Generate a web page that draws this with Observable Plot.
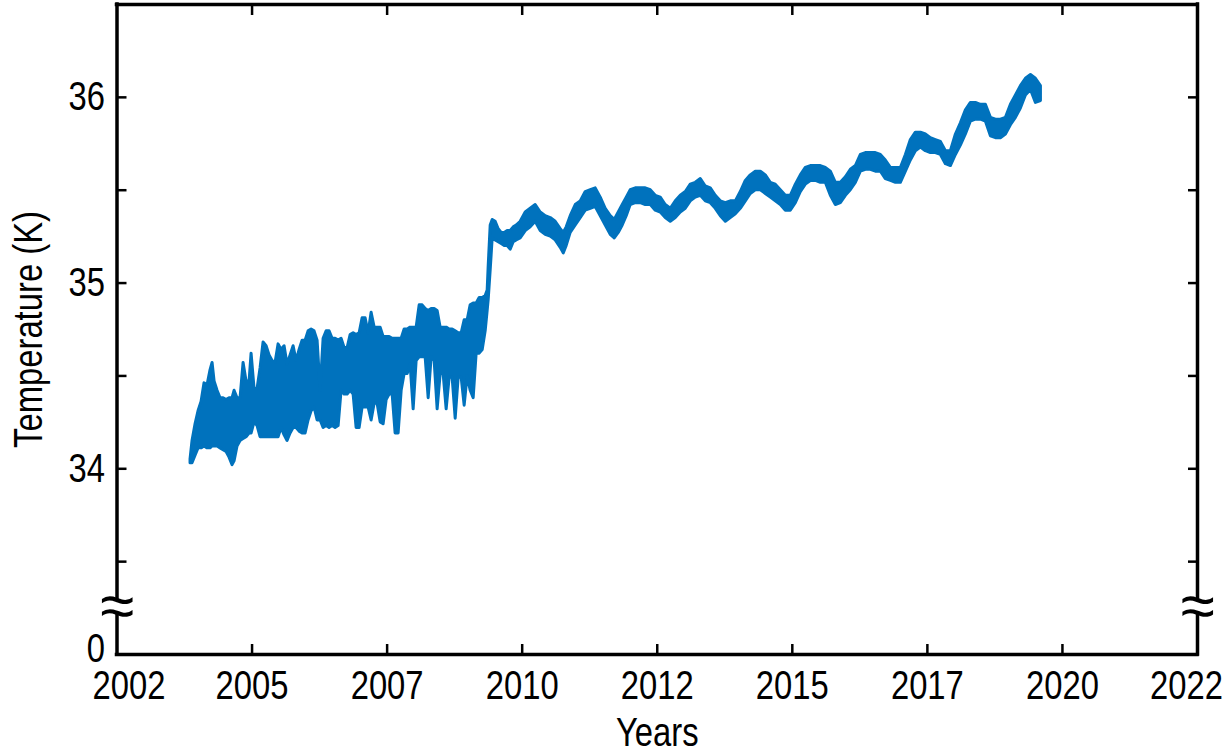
<!DOCTYPE html>
<html>
<head>
<meta charset="utf-8">
<script src="https://cdn.jsdelivr.net/npm/d3@7"></script>
<script src="https://cdn.jsdelivr.net/npm/@observablehq/plot@0.6"></script>
<style>
  html, body { margin: 0; padding: 0; background: #fff; }
  #chart svg { display: block; }
</style>
</head>
<body>
<div id="chart"></div>
<script>
// ---- Data (decimal year, band of the plotted series in K) ----
const years = [
  2003.361, 2003.398, 2003.454, 2003.509, 2003.565, 2003.620, 2003.676, 2003.731, 2003.769, 2003.806,
  2003.861, 2003.917, 2003.972, 2004.028, 2004.083, 2004.139, 2004.176, 2004.231, 2004.287, 2004.343,
  2004.398, 2004.454, 2004.491, 2004.546, 2004.602, 2004.657, 2004.713, 2004.769, 2004.824, 2004.880,
  2004.935, 2004.991, 2005.046, 2005.102, 2005.157, 2005.213, 2005.269, 2005.324, 2005.380, 2005.435,
  2005.491, 2005.546, 2005.602, 2005.657, 2005.713, 2005.769, 2005.824, 2005.880, 2005.935, 2005.991,
  2006.046, 2006.102, 2006.157, 2006.213, 2006.269, 2006.324, 2006.380, 2006.435, 2006.491, 2006.546,
  2006.602, 2006.657, 2006.713, 2006.769, 2006.824, 2006.880, 2006.935, 2006.991, 2007.046, 2007.102,
  2007.157, 2007.213, 2007.269, 2007.324, 2007.380, 2007.435, 2007.491, 2007.546, 2007.602, 2007.657,
  2007.713, 2007.769, 2007.824, 2007.880, 2007.935, 2007.991, 2008.046, 2008.102, 2008.157, 2008.213,
  2008.269, 2008.324, 2008.380, 2008.435, 2008.491, 2008.546, 2008.602, 2008.657, 2008.713, 2008.769,
  2008.824, 2008.861,
  2008.880, 2008.917, 2008.954, 2009.009, 2009.065, 2009.120, 2009.176, 2009.231, 2009.287, 2009.343,
  2009.398, 2009.472, 2009.565, 2009.657, 2009.750, 2009.843, 2009.935, 2010.028, 2010.120, 2010.213,
  2010.269, 2010.324, 2010.398, 2010.491, 2010.583, 2010.676, 2010.769, 2010.861, 2010.954, 2011.046,
  2011.139, 2011.213, 2011.287, 2011.361, 2011.435, 2011.509,
  2011.602, 2011.694, 2011.787, 2011.880, 2011.972, 2012.065, 2012.157, 2012.250, 2012.343, 2012.435,
  2012.528, 2012.620, 2012.713, 2012.806, 2012.898, 2012.991, 2013.083, 2013.176, 2013.269, 2013.361,
  2013.454, 2013.546, 2013.639, 2013.731, 2013.824, 2013.917, 2014.009, 2014.102, 2014.194, 2014.287,
  2014.380, 2014.472, 2014.565, 2014.657, 2014.750, 2014.843, 2014.935, 2015.028, 2015.120, 2015.213,
  2015.306, 2015.398, 2015.491, 2015.583, 2015.676, 2015.769, 2015.861, 2015.954, 2016.046, 2016.139,
  2016.231, 2016.324, 2016.417, 2016.509, 2016.602, 2016.694, 2016.787, 2016.880, 2016.972, 2017.065,
  2017.157, 2017.250, 2017.343, 2017.435, 2017.528, 2017.620, 2017.713, 2017.806, 2017.898, 2017.991,
  2018.083, 2018.176, 2018.269, 2018.361, 2018.454, 2018.546, 2018.639, 2018.731, 2018.824, 2018.917,
  2019.009, 2019.102
];

const tempHigh = [
  34.05, 34.15, 34.24, 34.31, 34.36, 34.46, 34.45, 34.53, 34.57, 34.47,
  34.42, 34.38, 34.38, 34.37, 34.38, 34.38, 34.42, 34.38, 34.38, 34.57,
  34.47, 34.47, 34.62, 34.43, 34.43, 34.54, 34.68, 34.66, 34.61, 34.58,
  34.57, 34.67, 34.64, 34.66, 34.56, 34.61, 34.66, 34.58, 34.64, 34.69,
  34.69, 34.74, 34.75, 34.74, 34.69, 34.42, 34.70, 34.74, 34.74, 34.70,
  34.70, 34.69, 34.70, 34.65, 34.65, 34.72, 34.73, 34.72, 34.73, 34.81,
  34.81, 34.73, 34.84, 34.76, 34.76, 34.76, 34.71, 34.71, 34.71, 34.70,
  34.70, 34.70, 34.70, 34.75, 34.75, 34.76, 34.76, 34.76, 34.88, 34.88,
  34.86, 34.85, 34.86, 34.86, 34.85, 34.76, 34.76, 34.76, 34.75, 34.75,
  34.74, 34.73, 34.73, 34.80, 34.80, 34.88, 34.89, 34.89, 34.92, 34.92,
  34.93, 34.96,
  35.09, 35.31, 35.34, 35.33, 35.29, 35.27, 35.27, 35.28, 35.28, 35.30,
  35.31, 35.33, 35.38, 35.40, 35.42, 35.38, 35.36, 35.35, 35.33, 35.29,
  35.27, 35.30, 35.36, 35.42, 35.44, 35.49, 35.50, 35.51, 35.46, 35.40,
  35.36, 35.34, 35.38, 35.42, 35.46, 35.50,
  35.51, 35.51, 35.51, 35.50, 35.47, 35.46, 35.42, 35.40, 35.44, 35.47,
  35.49, 35.53, 35.54, 35.56, 35.52, 35.51, 35.47, 35.44, 35.43, 35.44,
  35.44, 35.49, 35.55, 35.58, 35.60, 35.60, 35.58, 35.54, 35.53, 35.50,
  35.47, 35.47, 35.53, 35.58, 35.62, 35.63, 35.63, 35.63, 35.62, 35.60,
  35.54, 35.54, 35.57, 35.61, 35.63, 35.69, 35.70, 35.70, 35.70, 35.69,
  35.66, 35.62, 35.62, 35.62, 35.69, 35.77, 35.81, 35.81, 35.80, 35.78,
  35.77, 35.76, 35.71, 35.71, 35.80, 35.86, 35.93, 35.97, 35.97, 35.96,
  35.96, 35.89, 35.88, 35.88, 35.89, 35.96, 36.01, 36.06, 36.10, 36.12,
  36.10, 36.06
];

const tempLow = [
  34.03, 34.03, 34.07, 34.11, 34.11, 34.12, 34.11, 34.11, 34.12, 34.12,
  34.12, 34.11, 34.10, 34.09, 34.06, 34.02, 34.04, 34.12, 34.15, 34.16,
  34.17, 34.19, 34.19, 34.25, 34.23, 34.17, 34.17, 34.17, 34.17, 34.17,
  34.17, 34.17, 34.22, 34.18, 34.15, 34.19, 34.22, 34.22, 34.20, 34.19,
  34.19, 34.26, 34.31, 34.33, 34.26, 34.26, 34.22, 34.23, 34.22, 34.23,
  34.22, 34.23, 34.42, 34.40, 34.40, 34.42, 34.40, 34.22, 34.22, 34.33,
  34.33, 34.33, 34.26, 34.35, 34.35, 34.25, 34.24, 34.37, 34.40, 34.40,
  34.19, 34.19, 34.42, 34.51, 34.51, 34.56, 34.32, 34.58, 34.60, 34.60,
  34.60, 34.38, 34.60, 34.58, 34.32, 34.51, 34.51, 34.32, 34.49, 34.49,
  34.27, 34.49, 34.49, 34.34, 34.50, 34.42, 34.38, 34.62, 34.62, 34.64,
  34.74, 34.85,
  34.91, 35.07, 35.24, 35.23, 35.22, 35.21, 35.20, 35.20, 35.18, 35.22,
  35.23, 35.24, 35.28, 35.30, 35.33, 35.28, 35.26, 35.25, 35.23, 35.19,
  35.16, 35.20, 35.27, 35.31, 35.35, 35.39, 35.40, 35.41, 35.36, 35.31,
  35.26, 35.24, 35.27, 35.31, 35.36, 35.42,
  35.43, 35.43, 35.42, 35.42, 35.39, 35.38, 35.35, 35.33, 35.35, 35.38,
  35.40, 35.44, 35.46, 35.47, 35.44, 35.43, 35.40, 35.36, 35.33, 35.35,
  35.37, 35.40, 35.44, 35.48, 35.50, 35.50, 35.48, 35.46, 35.44, 35.42,
  35.39, 35.39, 35.43, 35.49, 35.53, 35.55, 35.55, 35.54, 35.54, 35.47,
  35.42, 35.43, 35.47, 35.50, 35.54, 35.60, 35.61, 35.61, 35.60, 35.60,
  35.56, 35.55, 35.54, 35.54, 35.60, 35.66, 35.71, 35.73, 35.71, 35.70,
  35.70, 35.69, 35.64, 35.63, 35.69, 35.74, 35.80, 35.87, 35.88, 35.88,
  35.87, 35.79, 35.78, 35.78, 35.80, 35.85, 35.89, 35.94, 36.01, 36.04,
  35.97, 35.98
];

// Axis ticks and labels
const xTickValues = [2002, 2004.5, 2007, 2009.5, 2012, 2014.5, 2017, 2019.5, 2022];
const xTickLabels = ["2002", "2005", "2007", "2010", "2012", "2015", "2017", "2020", "2022"];
const yTickValues = [33.5, 34, 34.5, 35, 35.5, 36];
const yLabelValues = [33, 34, 35, 36];
const yLabelTexts = ["0", "34", "35", "36"];
const xLabel = "Years";
const yLabel = "Temperature (K)";
// broken-axis gap (the bottom of the axis stands for 0)
const breakLow = 33.21, breakHigh = 33.30, breakMid = 33.255;

// ---- Chart ----
const series = years.map((t, i) => ({t, lo: tempLow[i], hi: tempHigh[i]}));
const blue = "#0072BD";
const font = "'Liberation Sans', Arial, sans-serif";
const fs = 40;
const inner = xTickValues.slice(1, -1).map((v, i) => ({v, s: xTickLabels[i + 1]}));

const chart = Plot.plot({
  width: 1230,
  height: 751,
  marginLeft: 116.5,
  marginRight: 33,
  marginTop: 4,
  marginBottom: 97,
  style: {fontFamily: font, background: "white", color: "black"},
  x: {domain: [2002, 2022], axis: null, label: null},
  y: {domain: [33, 36.5], axis: null, label: null},
  marks: [
    Plot.areaY(series, {x: "t", y1: "lo", y2: "hi", fill: blue, stroke: blue, strokeWidth: 3, strokeLinejoin: "round"}),
    // inward ticks on all four sides
    Plot.axisY({anchor: "left", ticks: yTickValues, tickSize: -10, tickFormat: () => "", strokeWidth: 2.5, label: null}),
    Plot.axisY({anchor: "right", ticks: yTickValues, tickSize: -10, tickFormat: () => "", strokeWidth: 2.5, label: null}),
    Plot.axisX({anchor: "bottom", ticks: xTickValues.slice(1, -1), tickSize: -10, tickFormat: () => "", strokeWidth: 2.5, label: null}),
    Plot.axisX({anchor: "top", ticks: xTickValues.slice(1, -1), tickSize: -10, tickFormat: () => "", strokeWidth: 2.5, label: null}),
    // box
    Plot.ruleY([36.5, 33], {stroke: "black", strokeWidth: 3.5, strokeLinecap: "square"}),
    Plot.ruleX([2002, 2022], {y1: 33, y2: breakLow, stroke: "black", strokeWidth: 3.5, strokeLinecap: "square"}),
    Plot.ruleX([2002, 2022], {y1: breakHigh, y2: 36.5, stroke: "black", strokeWidth: 3.5, strokeLinecap: "square"}),
    // axis-break marks
    Plot.text([2002, 2022], {x: d => d, y: breakMid, text: () => "\u2248", fontSize: 62, className: "brk", fill: "black"}),
    // y tick labels
    Plot.text(yLabelValues.slice(1), {y: d => d, text: (d, i) => yLabelTexts[i + 1], frameAnchor: "left", dx: -12, textAnchor: "end", fontSize: fs}),
    Plot.text([yLabelValues[0]], {y: d => d, text: () => yLabelTexts[0], frameAnchor: "left", dx: -12, dy: -5, textAnchor: "end", fontSize: fs}),
    // x tick labels
    Plot.text(inner, {x: "v", text: "s", frameAnchor: "bottom", lineAnchor: "top", dy: 16, fontSize: fs}),
    Plot.text([xTickValues[0]], {x: d => d, text: () => xTickLabels[0], frameAnchor: "bottom", lineAnchor: "top", dy: 16, dx: 12, fontSize: fs}),
    Plot.text([xTickValues[xTickValues.length - 1]], {x: d => d, text: () => xTickLabels[xTickLabels.length - 1], frameAnchor: "bottom", lineAnchor: "top", dy: 16, dx: -11, fontSize: fs}),
    // axis titles
    Plot.text([xLabel], {x: 2012, text: d => d, frameAnchor: "bottom", lineAnchor: "top", dy: 63, fontSize: fs}),
    Plot.text([yLabel], {text: d => d, frameAnchor: "left", rotate: -90, textAnchor: "middle", lineAnchor: "top", dx: -103, fontSize: fs})
  ]
});

// condensed (narrow) look of the reference's Helvetica-Narrow-like text:
// squeeze each label along its own writing direction only
chart.querySelectorAll("text").forEach(t => {
  if (t.closest(".brk")) return;
  const tr = t.getAttribute("transform") || "";
  t.setAttribute("transform", `${tr} scale(0.82,1)`);
});

document.getElementById("chart").appendChild(chart);
</script>
</body>
</html>
